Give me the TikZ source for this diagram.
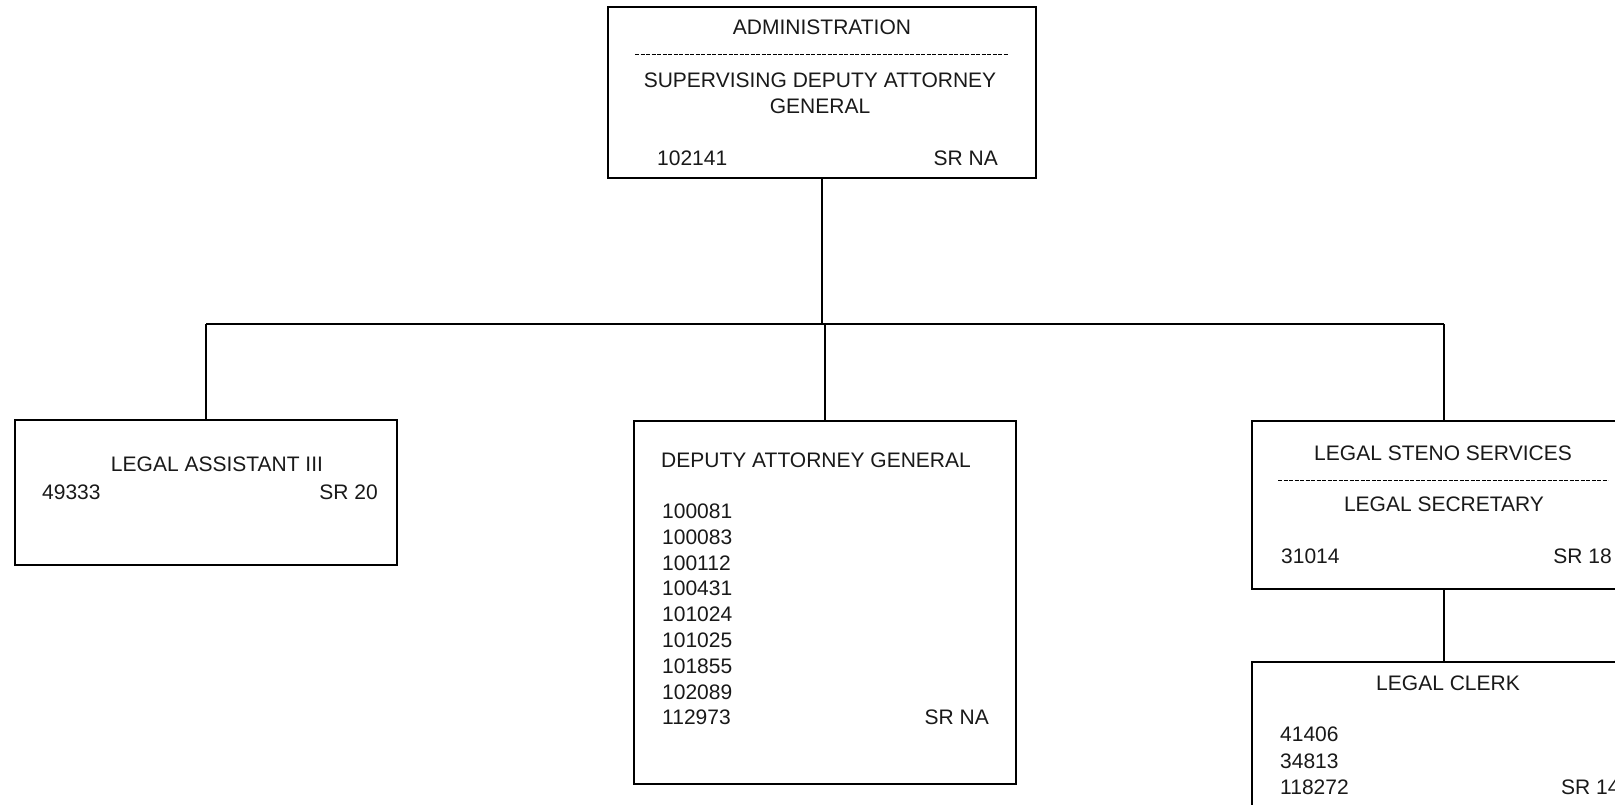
\documentclass[tikz,border=0pt]{standalone}
\usepackage{fontspec}
\setmainfont{Liberation Sans}
\begin{document}
\begin{tikzpicture}[x=1pt,y=-1pt,
  box/.style={draw=black, line width=1.9pt, rectangle, inner sep=0pt, fill=none},
  conn/.style={draw=black, line width=1.6pt},
  dashline/.style={draw=black, line width=1pt, dash pattern=on 4pt off 1.5pt},
  lbl/.style={inner sep=0pt, text=black!90, font=\fontsize{21}{25.8}\selectfont},
  lblc/.style={lbl, anchor=base},
  lbll/.style={lbl, anchor=base west},
  lblr/.style={lbl, anchor=base east}]
\useasboundingbox (0,0) rectangle (1615,804);
\clip (0,0) rectangle (1615,804);
\fill[white] (0,0) rectangle (1615,804);

% boxes
\node[box, minimum width=428pt, minimum height=171pt] (top) at (822,92.5) {};
\node[box, minimum width=382pt, minimum height=145pt] (left) at (206,492.5) {};
\node[box, minimum width=382pt, minimum height=363pt] (mid) at (825,602.5) {};
\node[box, minimum width=384pt, minimum height=168pt] (steno) at (1444,505) {};
\node[box, minimum width=384pt, minimum height=178pt] (clerk) at (1444,751) {};

% connectors
\coordinate (busL) at (206,324);
\coordinate (busR) at (1444,324);
\draw[conn] (top.south) -- (top.south |- busL);
\draw[conn] (busL) -- (busR);
\draw[conn] (left.north) -- (left.north |- busL);
\draw[conn] (mid.north) -- (mid.north |- busL);
\draw[conn] (steno.north) -- (steno.north |- busR);
\draw[conn] (steno.south) -- (clerk.north);

% top box
\node[lblc] (t1) at (822,34.5) {ADMINISTRATION};
\coordinate (tdl) at (635,54);
\coordinate (tdr) at (1008,54);
\draw[dashline] (tdl) -- (tdr);
\node[lblc] (t2) at (820,87.5) {SUPERVISING DEPUTY ATTORNEY};
\node[lblc] (t3) at (820,113.5) {GENERAL};
\node[lbll] (t4) at (657,165.5) {102141};
\node[lblr] (t5) at (998,165.5) {SR NA};

% left box
\node[lblc] (l1) at (217,471.5) {LEGAL ASSISTANT III};
\node[lbll] (l2) at (42,499.5) {49333};
\node[lblr] (l3) at (378,499.5) {SR 20};

% middle box
\node[lbll] (m0) at (661,467.5) {DEPUTY ATTORNEY GENERAL};
\foreach \n [count=\i from 0] in {100081,100083,100112,100431,101024,101025,101855,102089,112973}{
  \node[lbll] (m\n) at (662,518.5+25.8*\i) {\n};
}
\node[lblr] (msr) at (989,724.9) {SR NA};

% steno box
\node[lblc] (s1) at (1443,460.5) {LEGAL STENO SERVICES};
\coordinate (sdl) at (1278,480);
\coordinate (sdr) at (1608,480);
\draw[dashline] (sdl) -- (sdr);
\node[lblc] (s2) at (1444,511.5) {LEGAL SECRETARY};
\node[lbll] (s3) at (1281,563.5) {31014};
\node[lblr] (s4) at (1612,563.5) {SR 18};

% clerk box
\node[lblc] (c1) at (1448,690.5) {LEGAL CLERK};
\node[lbll] (c2) at (1280,741.5) {41406};
\node[lbll] (c3) at (1280,768) {34813};
\node[lbll] (c4) at (1280,794.5) {118272};
\node[lbll] (c5) at (1561,794.5) {SR 14};
\end{tikzpicture}
\end{document}
